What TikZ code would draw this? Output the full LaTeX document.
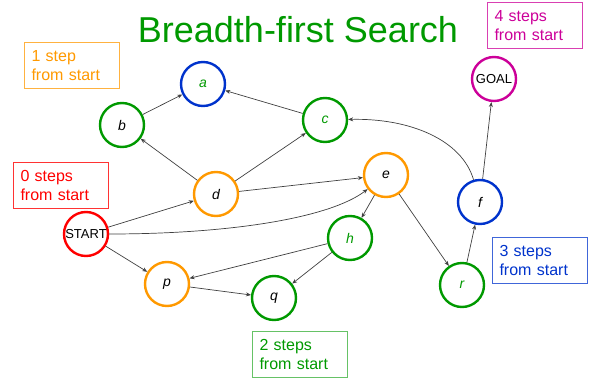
\documentclass[tikz,border=0pt]{standalone}
\usepackage{fontspec}
\setmainfont{Liberation Sans}
\usetikzlibrary{arrows.meta}
\definecolor{bfsgreen}{HTML}{009900}
\definecolor{bfsorange}{HTML}{FF9900}
\definecolor{bfsblue}{HTML}{0033CC}
\definecolor{bfsred}{HTML}{FF0000}
\definecolor{bfsmagenta}{HTML}{CC0099}
\definecolor{edgegray}{HTML}{404040}
\tikzset{
  state/.style={circle, draw, line width=2.4pt, minimum size=44pt, inner sep=0pt, fill=white,
                font=\fontsize{14}{16}\selectfont\itshape},
  wordstate/.style={state, font=\fontsize{13}{15}\selectfont},
  link/.style={draw=edgegray, line width=0.7pt, -{Stealth[length=5pt,width=4pt]}},
  stepbox/.style={draw, line width=1pt, anchor=north west, minimum width=95pt, minimum height=46pt,
                  text width=81pt, inner sep=7pt, align=left,
                  font=\fontsize{16}{19}\selectfont}
}
\begin{document}
\begin{tikzpicture}[x=1pt,y=-1pt]
\useasboundingbox (0,0) rectangle (596,390);

% title
\node[text=bfsgreen, font=\fontsize{36}{40}\selectfont] (title) at (298,30) {Breadth-first Search};

% states
\node[state, draw=bfsblue, text=bfsgreen] (a) at (203,84) {a};
\node[state, draw=bfsgreen] (b) at (122,125) {b};
\node[state, draw=bfsgreen, text=bfsgreen] (c) at (325,120) {c};
\node[state, draw=bfsorange] (d) at (216,194) {d};
\node[state, draw=bfsorange] (e) at (386,175) {e};
\node[wordstate, draw=bfsred] (start) at (86,234) {START};
\node[state, draw=bfsorange] (p) at (167,284) {p};
\node[state, draw=bfsgreen] (q) at (274,298) {q};
\node[state, draw=bfsgreen, text=bfsgreen] (h) at (350,238) {h};
\node[state, draw=bfsgreen, text=bfsgreen] (r) at (462,285) {r};
\node[state, draw=bfsblue] (f) at (480,202) {f};
\node[wordstate, draw=bfsmagenta] (goal) at (494,79) {GOAL};

% step labels
\node[stepbox, draw=bfsorange!75, text=bfsorange] (s1) at (24,42) {1 step\\from start};
\node[stepbox, draw=bfsred!80, text=bfsred] (s0) at (13,162) {0 steps\\from start};
\node[stepbox, draw=bfsmagenta!75, text=bfsmagenta] (s4) at (487,2) {4 steps\\from start};
\node[stepbox, draw=bfsblue!75, text=bfsblue] (s3) at (492,237) {3 steps\\from start};
\node[stepbox, draw=bfsgreen!60, text=bfsgreen] (s2) at (252,331) {2 steps\\from start};

% search edges
\draw[link] (b) -- (a);
\draw[link] (c) -- (a);
\draw[link] (d) -- (b);
\draw[link] (d) -- (c);
\draw[link] (start) -- (d);
\draw[link] (d) -- (e);
\draw[link] (start) .. controls (230,234) and (330,218) .. (e);
\draw[link] (start) -- (p);
\draw[link] (p) -- (q);
\draw[link] (e) -- (h);
\draw[link] (h) -- (p);
\draw[link] (h) -- (q);
\draw[link] (e) -- (r);
\draw[link] (r) -- (f);
\draw[link] (f) -- (goal);
\draw[link] (f) .. controls (462,140) and (410,118) .. (c);
\end{tikzpicture}
\end{document}
